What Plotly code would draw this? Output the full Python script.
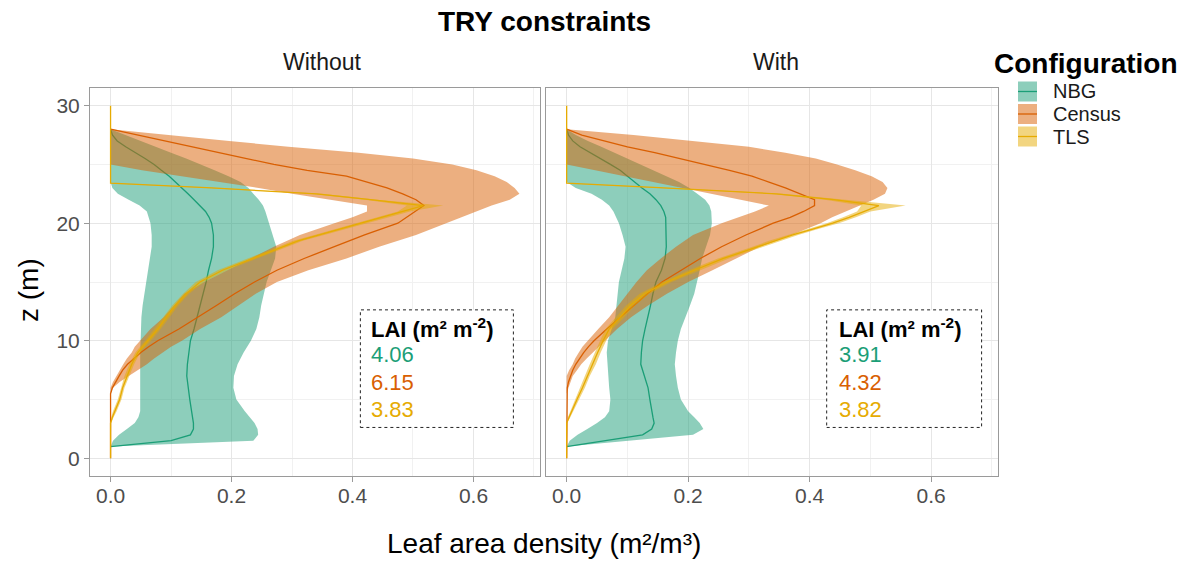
import plotly.graph_objects as go

W, H = 1192, 563
FONT = "Liberation Sans, Arial, sans-serif"

# ------------------------------------------------------------------ data
CONFIGS = ["NBG", "Census", "TLS"]
PANELS = ["Without", "With"]
COLORS = {"NBG": "#1B9E77", "Census": "#D95F02", "TLS": "#E6AB02"}
FILLS = {"NBG": "rgba(27,158,119,0.5)", "Census": "rgba(217,95,2,0.5)", "TLS": "rgba(230,171,2,0.5)"}

X_TICKS = [0.0, 0.2, 0.4, 0.6]
X_TICK_LABELS = ["0.0", "0.2", "0.4", "0.6"]
X_MINOR = [0.1, 0.3, 0.5, 0.7]
Y_TICKS = [0, 10, 20, 30]
Y_TICK_LABELS = ["0", "10", "20", "30"]
Y_MINOR = [5, 15, 25]

LAI_WITHOUT = ["4.06", "6.15", "3.83"]
LAI_WITH = ["3.91", "4.32", "3.82"]

# height grids (m)
Z_NBG = [1, 1.5, 2, 2.5, 3, 3.5, 4, 5, 6, 7, 8, 9, 10, 11, 12, 13, 14, 15, 16, 17, 18, 19, 20,
         20.5, 21, 21.5, 22, 22.5, 23, 23.5, 24, 24.5, 25, 25.5, 26, 26.5, 27, 27.5, 28]
Z_CENSUS = [0, 5.5, 6, 6.5, 7, 7.5, 8, 8.5, 9, 9.5, 10, 11, 12, 13, 14, 15, 16, 17, 18, 19, 20,
            20.5, 21, 21.5, 22, 22.5, 23, 23.5, 24, 24.5, 25, 25.5, 26, 26.5, 27, 27.5, 28]
Z_TLS = [0, 3, 3.5, 4, 5, 6, 7, 8, 9, 10, 11, 12, 13, 14, 15, 16, 17, 18, 18.5, 19, 19.5, 20,
         20.5, 21, 21.5, 22, 22.5, 23, 23.4, 24, 30]

# ---- Without TRY constraints
NBG_WO_MEAN = [0, 0.10, 0.132, 0.137, 0.137, 0.136, 0.134, 0.131, 0.128, 0.126, 0.127, 0.129, 0.132,
               0.138, 0.143, 0.149, 0.154, 0.158, 0.162, 0.167, 0.170, 0.170, 0.167,
               0.163, 0.157, 0.148, 0.138, 0.128, 0.118, 0.108, 0.097, 0.084, 0.072, 0.057, 0.040,
               0.025, 0.011, 0.003, 0]
NBG_WO_LO = [0, 0.004, 0.014, 0.027, 0.040, 0.046, 0.049, 0.049, 0.049, 0.049, 0.049, 0.049, 0.049,
             0.050, 0.051, 0.053, 0.055, 0.058, 0.062, 0.065, 0.068, 0.068, 0.066,
             0.063, 0.060, 0.048, 0.030, 0.012, 0.003, 0, 0, 0, 0, 0, 0, 0, 0, 0, 0]
NBG_WO_HI = [0, 0.236, 0.244, 0.243, 0.238, 0.230, 0.222, 0.208, 0.203, 0.204, 0.210, 0.220, 0.232,
             0.241, 0.246, 0.249, 0.253, 0.258, 0.265, 0.272, 0.274, 0.268, 0.263,
             0.260, 0.256, 0.252, 0.245, 0.236, 0.228, 0.215, 0.195, 0.172, 0.150, 0.125, 0.100,
             0.075, 0.050, 0.025, 0]

CENSUS_WO_MEAN = [0, 0, 0.003, 0.008, 0.014, 0.020, 0.028, 0.039, 0.050, 0.063, 0.078, 0.113, 0.145,
                  0.175, 0.205, 0.238, 0.275, 0.320, 0.370, 0.420, 0.475,
                  0.490, 0.505, 0.518, 0.505, 0.483, 0.457, 0.425, 0.390, 0.325, 0.270, 0.225, 0.180,
                  0.130, 0.085, 0.040, 0]
CENSUS_WO_LO = [0, 0, 0, 0.004, 0.010, 0.015, 0.021, 0.027, 0.035, 0.040, 0.048, 0.066, 0.088,
                0.105, 0.122, 0.155, 0.195, 0.232, 0.270, 0.313, 0.370,
                0.400, 0.424, 0.424, 0.360, 0.300, 0.245, 0.181, 0.117, 0.052, 0, 0, 0, 0, 0, 0, 0]
CENSUS_WO_HI = [0, 0, 0.004, 0.015, 0.030, 0.045, 0.060, 0.072, 0.085, 0.100, 0.118, 0.148, 0.183,
                0.212, 0.240, 0.275, 0.327, 0.390, 0.444, 0.505, 0.555,
                0.578, 0.603, 0.630, 0.660, 0.676, 0.668, 0.655, 0.635, 0.605, 0.565, 0.500, 0.410,
                0.294, 0.196, 0.098, 0]

TLS_WO_MEAN = [0, 0, 0.003, 0.007, 0.015, 0.020, 0.027, 0.035, 0.045, 0.062, 0.078, 0.092, 0.107,
               0.125, 0.148, 0.185, 0.235, 0.285, 0.310, 0.345, 0.380, 0.415,
               0.450, 0.485, 0.517, 0.430, 0.340, 0.167, 0, 0, 0]
TLS_WO_LO = [0, 0, 0.001, 0.004, 0.012, 0.017, 0.023, 0.031, 0.041, 0.057, 0.073, 0.087, 0.102,
             0.120, 0.141, 0.177, 0.227, 0.277, 0.302, 0.337, 0.372, 0.407,
             0.442, 0.475, 0.490, 0.420, 0.330, 0.160, 0, 0, 0]
TLS_WO_HI = [0, 0.001, 0.005, 0.010, 0.018, 0.023, 0.031, 0.039, 0.049, 0.067, 0.083, 0.097, 0.112,
             0.130, 0.155, 0.193, 0.243, 0.293, 0.318, 0.353, 0.388, 0.423,
             0.458, 0.495, 0.550, 0.440, 0.350, 0.175, 0.001, 0, 0]

# ---- With TRY constraints
NBG_W_MEAN = [0, 0.060, 0.125, 0.140, 0.144, 0.142, 0.140, 0.137, 0.134, 0.128, 0.122, 0.123, 0.125,
              0.129, 0.134, 0.138, 0.142, 0.147, 0.156, 0.162, 0.164, 0.164, 0.164,
              0.163, 0.160, 0.155, 0.147, 0.137, 0.124, 0.112, 0.100, 0.088, 0.072, 0.055, 0.038,
              0.022, 0.010, 0.003, 0]
NBG_W_LO = [0, 0.005, 0.018, 0.034, 0.050, 0.063, 0.070, 0.072, 0.070, 0.069, 0.067, 0.066, 0.068,
            0.074, 0.080, 0.082, 0.084, 0.086, 0.090, 0.095, 0.097, 0.092, 0.086,
            0.082, 0.077, 0.070, 0.058, 0.041, 0.015, 0, 0, 0, 0, 0, 0, 0, 0, 0, 0]
NBG_W_HI = [0, 0.100, 0.208, 0.225, 0.219, 0.210, 0.200, 0.188, 0.183, 0.180, 0.178, 0.180, 0.183,
            0.188, 0.196, 0.203, 0.210, 0.215, 0.219, 0.223, 0.230, 0.236, 0.239,
            0.239, 0.238, 0.235, 0.228, 0.215, 0.202, 0.185, 0.164, 0.143, 0.121, 0.100, 0.078,
            0.057, 0.035, 0.015, 0]

CENSUS_W_MEAN = [0, 0, 0.001, 0.003, 0.006, 0.010, 0.015, 0.021, 0.028, 0.036, 0.045, 0.066, 0.088,
                 0.110, 0.133, 0.157, 0.188, 0.220, 0.255, 0.295, 0.340,
                 0.368, 0.390, 0.408, 0.408, 0.385, 0.360, 0.333, 0.305, 0.268, 0.228, 0.187, 0.145,
                 0.100, 0.060, 0.025, 0]
CENSUS_W_LO = [0, 0, 0, 0, 0, 0.004, 0.010, 0.014, 0.020, 0.026, 0.034, 0.052, 0.070,
               0.084, 0.100, 0.115, 0.132, 0.155, 0.180, 0.208, 0.255,
               0.282, 0.310, 0.333, 0.285, 0.236, 0.190, 0.142, 0.095, 0.047, 0, 0, 0, 0, 0, 0, 0]
CENSUS_W_HI = [0, 0, 0.003, 0.006, 0.010, 0.017, 0.024, 0.033, 0.043, 0.053, 0.063, 0.083, 0.106,
               0.134, 0.165, 0.200, 0.240, 0.280, 0.318, 0.370, 0.418,
               0.437, 0.460, 0.482, 0.505, 0.524, 0.528, 0.520, 0.502, 0.475, 0.445, 0.410, 0.360,
               0.300, 0.210, 0.110, 0]

TLS_W_MEAN = [0, 0, 0.004, 0.008, 0.017, 0.026, 0.034, 0.043, 0.051, 0.060, 0.070, 0.088, 0.105,
              0.128, 0.165, 0.210, 0.258, 0.315, 0.342, 0.372, 0.405, 0.438,
              0.465, 0.490, 0.514, 0.440, 0.345, 0.160, 0, 0, 0]
TLS_W_LO = [0, 0, 0.002, 0.005, 0.013, 0.022, 0.030, 0.038, 0.046, 0.055, 0.064, 0.081, 0.098,
            0.120, 0.157, 0.201, 0.249, 0.306, 0.333, 0.363, 0.396, 0.428,
            0.455, 0.478, 0.485, 0.425, 0.335, 0.152, 0, 0, 0]
TLS_W_HI = [0, 0.001, 0.006, 0.011, 0.021, 0.030, 0.038, 0.048, 0.056, 0.065, 0.076, 0.095, 0.112,
            0.136, 0.173, 0.219, 0.267, 0.324, 0.351, 0.381, 0.414, 0.448,
            0.476, 0.500, 0.558, 0.455, 0.355, 0.168, 0.001, 0, 0]

SERIES = {
    "Without": {
        "NBG": (Z_NBG, NBG_WO_MEAN, NBG_WO_LO, NBG_WO_HI),
        "Census": (Z_CENSUS, CENSUS_WO_MEAN, CENSUS_WO_LO, CENSUS_WO_HI),
        "TLS": (Z_TLS, TLS_WO_MEAN, TLS_WO_LO, TLS_WO_HI),
    },
    "With": {
        "NBG": (Z_NBG, NBG_W_MEAN, NBG_W_LO, NBG_W_HI),
        "Census": (Z_CENSUS, CENSUS_W_MEAN, CENSUS_W_LO, CENSUS_W_HI),
        "TLS": (Z_TLS, TLS_W_MEAN, TLS_W_LO, TLS_W_HI),
    },
}
LAI = {"Without": LAI_WITHOUT, "With": LAI_WITH}

# ------------------------------------------------------------------ layout helpers
def px(x):
    return x / W


def py(y):
    return 1 - y / H


PANEL_X = {"Without": (90, 540), "With": (546, 998)}
PANEL_Y = (88, 476)
AXES = {"Without": ("x", "y"), "With": ("x2", "y2")}
LAI_BOX = {"Without": (0.413, 0.666, 0.427), "With": (0.428, 0.683, 0.445)}

fig = go.Figure()

for panel in PANELS:
    xa, ya = AXES[panel]
    for cfg in CONFIGS:
        z, mean, lo, hi = SERIES[panel][cfg]
        fig.add_trace(go.Scatter(
            x=list(hi) + list(lo)[::-1], y=list(z) + list(z)[::-1],
            fill="toself", fillcolor=FILLS[cfg], mode="lines",
            line=dict(width=0, color=FILLS[cfg]), hoverinfo="skip",
            showlegend=False, xaxis=xa, yaxis=ya))
        fig.add_trace(go.Scatter(
            x=mean, y=z, mode="lines", line=dict(color=COLORS[cfg], width=1.3),
            name=cfg, showlegend=False, xaxis=xa, yaxis=ya))

GRID = "#e6e6e6"
MINOR_GRID = "#f1f1f1"
BORDER = "#9a9a9a"
TICKFONT = dict(family=FONT, size=21, color="#4d4d4d")


def xaxis(panel):
    x0, x1 = PANEL_X[panel]
    return dict(domain=[px(x0), px(x1)], range=[-0.034, 0.71],
                tickmode="array", tickvals=X_TICKS, ticktext=X_TICK_LABELS,
                showgrid=True, gridcolor=GRID, gridwidth=1,
                minor=dict(tickvals=X_MINOR, showgrid=True, gridcolor=MINOR_GRID, gridwidth=0.8),
                ticks="outside", ticklen=5, tickcolor=BORDER, tickwidth=1,
                ticklabelstandoff=-4,
                showline=True, linecolor=BORDER, linewidth=1, mirror=True,
                zeroline=False, tickfont=TICKFONT, fixedrange=True)


def yaxis(panel, labels):
    return dict(domain=[py(PANEL_Y[1]), py(PANEL_Y[0])], range=[-1.5, 31.5],
                tickmode="array", tickvals=Y_TICKS, ticktext=Y_TICK_LABELS,
                showticklabels=labels, ticks="outside" if labels else "",
                ticklen=5, tickcolor=BORDER, tickwidth=1,
                showgrid=True, gridcolor=GRID, gridwidth=1,
                minor=dict(tickvals=Y_MINOR, showgrid=True, gridcolor=MINOR_GRID, gridwidth=0.8),
                showline=True, linecolor=BORDER, linewidth=1, mirror=True,
                zeroline=False, tickfont=TICKFONT, fixedrange=True)


xa1 = xaxis("Without"); xa1["anchor"] = "y"
xa2 = xaxis("With"); xa2["anchor"] = "y2"
ya1 = yaxis("Without", True); ya1["anchor"] = "x"
ya2 = yaxis("With", False); ya2["anchor"] = "x2"

shapes = []
annotations = []

# LAI boxes
for panel in PANELS:
    xa, ya = AXES[panel]
    bx0, bx1, tx = LAI_BOX[panel]
    shapes.append(dict(type="rect", xref=xa, yref=ya, x0=bx0, x1=bx1, y0=2.63, y1=12.63,
                       line=dict(color="#222222", width=1, dash="dot"), fillcolor="white",
                       layer="above"))
    annotations.append(dict(xref=xa, yref=ya, x=tx, y=11.05, text="<b>LAI (m² m<sup>-2</sup>)</b>",
                            showarrow=False, xanchor="left", yanchor="middle",
                            font=dict(family=FONT, size=22, color="black")))
    for i, cfg in enumerate(CONFIGS):
        annotations.append(dict(xref=xa, yref=ya, x=tx, y=[8.8, 6.45, 4.15][i], text=LAI[panel][i],
                                showarrow=False, xanchor="left", yanchor="middle",
                                font=dict(family=FONT, size=22, color=COLORS[cfg])))

# titles
annotations.append(dict(xref="paper", yref="paper", x=px(544), y=py(21), text="<b>TRY constraints</b>",
                        showarrow=False, xanchor="center", yanchor="middle",
                        font=dict(family=FONT, size=28, color="black")))
annotations.append(dict(xref="paper", yref="paper", x=px(322), y=py(62), text="Without",
                        showarrow=False, xanchor="center", yanchor="middle",
                        font=dict(family=FONT, size=23, color="#1a1a1a")))
annotations.append(dict(xref="paper", yref="paper", x=px(776), y=py(62), text="With",
                        showarrow=False, xanchor="center", yanchor="middle",
                        font=dict(family=FONT, size=23, color="#1a1a1a")))
annotations.append(dict(xref="paper", yref="paper", x=px(544), y=py(543),
                        text="Leaf area density (m²/m³)", showarrow=False,
                        xanchor="center", yanchor="middle",
                        font=dict(family=FONT, size=28, color="black")))
annotations.append(dict(xref="paper", yref="paper", x=px(28), y=py(290), text="z (m)",
                        showarrow=False, xanchor="center", yanchor="middle", textangle=-90,
                        font=dict(family=FONT, size=28, color="black")))

# manual legend (ggplot style keys)
annotations.append(dict(xref="paper", yref="paper", x=px(992), y=py(64), text="<b>Configuration</b>",
                        showarrow=False, xanchor="left", yanchor="middle",
                        font=dict(family=FONT, size=28, color="black")))
KEY_Y = [91.5, 114, 136.5]
for i, cfg in enumerate(CONFIGS):
    cy = KEY_Y[i]
    shapes.append(dict(type="rect", xref="paper", yref="paper",
                       x0=px(1018), x1=px(1037), y0=py(cy + 10), y1=py(cy - 10),
                       line=dict(width=0), fillcolor=FILLS[cfg]))
    shapes.append(dict(type="line", xref="paper", yref="paper",
                       x0=px(1018), x1=px(1037), y0=py(cy), y1=py(cy),
                       line=dict(color=COLORS[cfg], width=1.3)))
    annotations.append(dict(xref="paper", yref="paper", x=px(1051), y=py(cy), text=cfg,
                            showarrow=False, xanchor="left", yanchor="middle",
                            font=dict(family=FONT, size=20, color="#1a1a1a")))

fig.update_layout(
    width=W, height=H, margin=dict(l=0, r=0, t=0, b=0),
    paper_bgcolor="white", plot_bgcolor="white",
    xaxis=xa1, xaxis2=xa2, yaxis=ya1, yaxis2=ya2,
    shapes=shapes, annotations=annotations, showlegend=False,
    font=dict(family=FONT),
)

fig.write_html("out.html")
